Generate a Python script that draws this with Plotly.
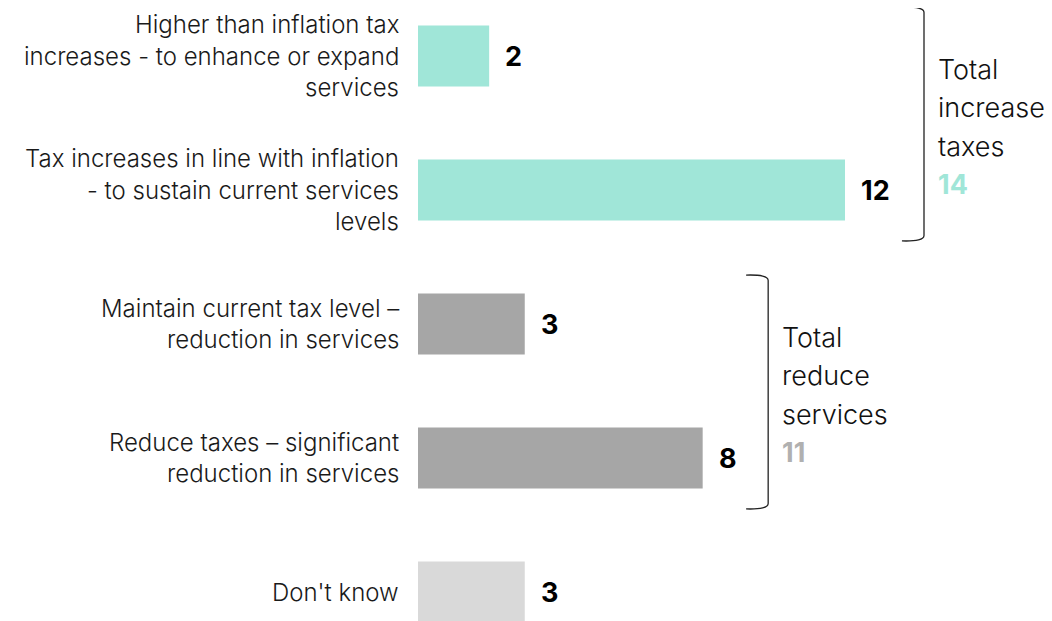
import plotly.graph_objects as go

categories = [
    "Higher than inflation tax<br>increases - to enhance or expand<br>services",
    "Tax increases in line with inflation<br>- to sustain current services<br>levels",
    "Maintain current tax level –<br>reduction in services",
    "Reduce taxes – significant<br>reduction in services",
    "Don't know",
]
values = [2, 12, 3, 8, 3]
bar_colors = ["#A0E6D8", "#A0E6D8", "#A6A6A6", "#A6A6A6", "#D9D9D9"]

group_lines = [["Total", "increase", "taxes"], ["Total", "reduce", "services"]]
group_members = [[0, 1], [2, 3]]
group_totals = [14, 11]
group_colors = ["#A0E6D8", "#B0B0B0"]

FONT = "Inter"
pos = list(range(len(values)))
unit_px = (845 - 418) / 12.0

fig = go.Figure()
fig.add_trace(go.Bar(
    y=pos, x=values, orientation="h",
    marker=dict(color=bar_colors, line=dict(width=0)),
    width=0.455, hoverinfo="skip",
))

ann = []
LS = 31.5
for i, (lab, v) in enumerate(zip(categories, values)):
    lines = lab.split("<br>")
    n = len(lines)
    for k, ln in enumerate(lines):
        ann.append(dict(
            x=0, y=i, xref="x", yref="y", text=ln, showarrow=False,
            xanchor="right", yanchor="middle", xshift=-17,
            yshift=((n - 1) / 2 - k) * LS,
            font=dict(family=FONT, size=24, color="#1a1a1a", weight=300),
        ))
    ann.append(dict(
        x=v, y=i, xref="x", yref="y", text="<b>%d</b>" % v, showarrow=False,
        xanchor="left", yanchor="middle", xshift=14,
        font=dict(family=FONT, size=27, color="#000000"),
    ))

shapes = []
GS = 38.5
for g, members in enumerate(group_members):
    vmax = max(values[m] for m in members)
    # bracket sits a fixed distance past the value label of the longest bar
    xb = vmax + (len(str(vmax)) * 13.5 + 14 + 38) / unit_px
    y0 = members[0] - 0.365
    y1 = members[-1] + 0.38
    hook = 0.62
    path = (f"M {xb - hook},{y0} Q {xb},{y0 - 0.005} {xb},{y0 + 0.04} "
            f"L {xb},{y1 - 0.04} Q {xb},{y1 + 0.005} {xb - hook},{y1}")
    shapes.append(dict(type="path", path=path, xref="x", yref="y",
                       line=dict(color="#222222", width=1.3)))
    yc = (y0 + y1) / 2
    lines = group_lines[g] + ["<b>%d</b>" % group_totals[g]]
    n = len(lines)
    for k, ln in enumerate(lines):
        is_total = k == n - 1
        ann.append(dict(
            x=xb, y=yc, xref="x", yref="y", text=ln, showarrow=False,
            xanchor="left", yanchor="middle", xshift=12,
            yshift=((n - 1) / 2 - k) * GS - 3,
            font=dict(family=FONT, size=27,
                      color=group_colors[g] if is_total else "#111111",
                      weight=700 if is_total else 300),
        ))

# page body has an 8px margin: figure sized so it fills the window exactly
W, H, OFF = 1044, 613, 8
left = 418 - OFF
c0 = 56 - OFF
fig.update_layout(
    width=W, height=H,
    margin=dict(l=left, r=0, t=0, b=0),
    paper_bgcolor="white", plot_bgcolor="white",
    showlegend=False,
    xaxis=dict(range=[0, (W - left) / unit_px], visible=False, fixedrange=True),
    yaxis=dict(range=[(H - c0) / 134.0, -c0 / 134.0], visible=False, fixedrange=True),
    annotations=ann, shapes=shapes,
)
fig.write_html("out.html")
